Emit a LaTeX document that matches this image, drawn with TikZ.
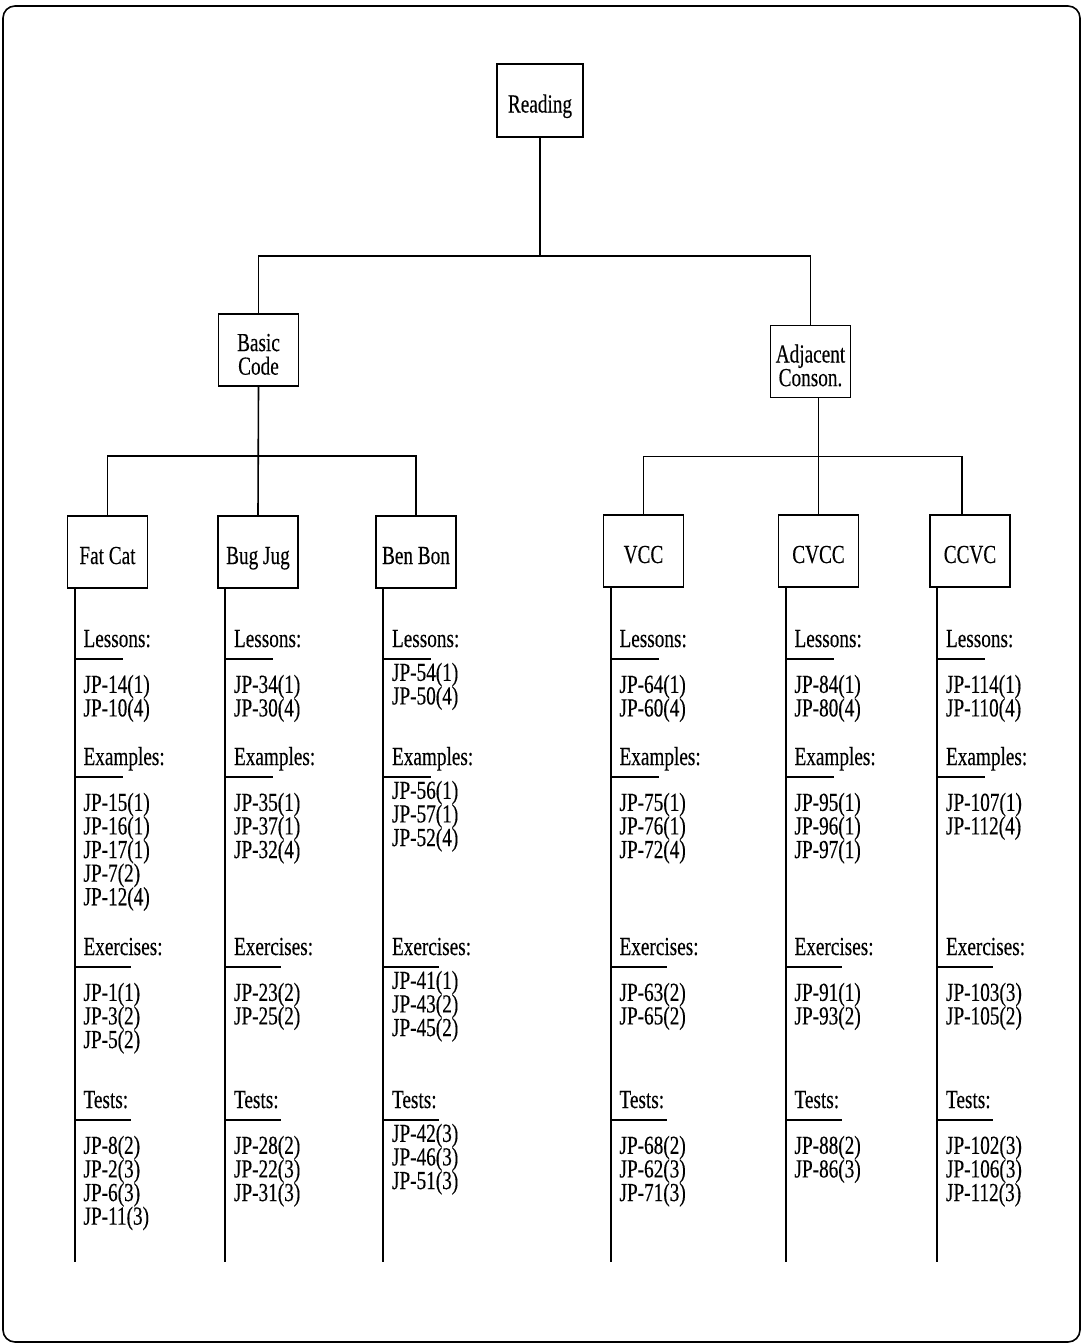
\documentclass[tikz,border=0pt]{standalone}
\usepackage{fontspec}
\setmainfont{Liberation Serif}[FakeStretch=0.74,FakeBold=0.3]
\usetikzlibrary{positioning}
\newcommand\jpfont{\fontsize{13}{11.8}\selectfont\lineskiplimit=-10pt\relax}

\begin{document}
\begin{tikzpicture}[x=0.5pt,y=-0.5pt,line width=0.8pt,
  txt/.style={font=\jpfont},
  box/.style={draw,txt,minimum width=40pt,minimum height=36pt,inner sep=1pt,text height=12pt,text depth=0pt},
  boxtwo/.style={draw,txt,align=center,minimum width=40pt,minimum height=36pt,inner sep=1pt},
  lbl/.style={txt,anchor=base west,inner sep=0pt},
  items/.style={txt,align=left,anchor=north west,inner sep=0pt,execute at begin node=\rule{0pt}{10pt}}]
\useasboundingbox (0,0) rectangle (1083,1344);
\draw[rounded corners=6pt] (3,6) rectangle (1080,1342);
% tree of boxes
\node[box,minimum width=43pt,minimum height=36.5pt] (read) at (540,100.5) {Reading};
\node[boxtwo] (bc) at (258.5,350) {\rule{0pt}{13pt}Basic\\Code};
\node[boxtwo] (adj) at (810.5,361.5) {\rule{0pt}{13pt}Adjacent\\Conson.};
\node[box] (fc) at (107.5,552) {Fat Cat};
\node[box] (bj) at (258,552) {Bug Jug};
\node[box] (bb) at (416,552) {Ben Bon};
\node[box] (vcc) at (643.5,551) {VCC};
\node[box] (cvcc) at (818.5,551) {CVCC};
\node[box] (ccvc) at (970,551) {CCVC};
\draw (read.south) -- ++(0,118) -| (bc.north);
\draw (read.south) -- ++(0,118) -| (adj.north);
\draw (bc.south) -- (bj.north);
\draw (bc.south) -- ++(0,69) -| (fc.north);
\draw (bc.south) -- ++(0,69) -| (bb.north);
\draw (cvcc.north |- adj.south) -- (cvcc.north);
\draw (cvcc.north |- adj.south) -- ++(0,58) -| (vcc.north);
\draw (cvcc.north |- adj.south) -- ++(0,58) -| ([xshift=-4pt]ccvc.north);
% stems with section labels
\foreach \c in {fc,bj,bb,vcc,cvcc,ccvc}{
  \coordinate (\c-s) at ([xshift=4pt]\c.south west);
  \draw (\c-s) -- (\c-s |- 0,1262);
  \foreach \y/\t/\w/\n in {659/Lessons:/48/les,777/Examples:/48/exa,967/Exercises:/56/exe,1120/Tests:/56/tst}{
    \node[lbl,xshift=4pt,yshift=6pt] (\c-\n) at (\c-s |- 0,\y) {\t};
    \draw (\c-s |- 0,\y) -- ++(\w,0);
  }
}
% item lists
\node[items] (fc-les-i) at ([yshift=-13.5pt]fc-les.base west) {JP-14(1)\\JP-10(4)};
\node[items] (fc-exa-i) at ([yshift=-13.5pt]fc-exa.base west) {JP-15(1)\\JP-16(1)\\JP-17(1)\\JP-7(2)\\JP-12(4)};
\node[items] (fc-exe-i) at ([yshift=-13.5pt]fc-exe.base west) {JP-1(1)\\JP-3(2)\\JP-5(2)};
\node[items] (fc-tst-i) at ([yshift=-13.5pt]fc-tst.base west) {JP-8(2)\\JP-2(3)\\JP-6(3)\\JP-11(3)};
\node[items] (bj-les-i) at ([yshift=-13.5pt]bj-les.base west) {JP-34(1)\\JP-30(4)};
\node[items] (bj-exa-i) at ([yshift=-13.5pt]bj-exa.base west) {JP-35(1)\\JP-37(1)\\JP-32(4)};
\node[items] (bj-exe-i) at ([yshift=-13.5pt]bj-exe.base west) {JP-23(2)\\JP-25(2)};
\node[items] (bj-tst-i) at ([yshift=-13.5pt]bj-tst.base west) {JP-28(2)\\JP-22(3)\\JP-31(3)};
\node[items] (bb-les-i) at ([yshift=-7.5pt]bb-les.base west) {JP-54(1)\\JP-50(4)};
\node[items] (bb-exa-i) at ([yshift=-7.5pt]bb-exa.base west) {JP-56(1)\\JP-57(1)\\JP-52(4)};
\node[items] (bb-exe-i) at ([yshift=-7.5pt]bb-exe.base west) {JP-41(1)\\JP-43(2)\\JP-45(2)};
\node[items] (bb-tst-i) at ([yshift=-7.5pt]bb-tst.base west) {JP-42(3)\\JP-46(3)\\JP-51(3)};
\node[items] (vcc-les-i) at ([yshift=-13.5pt]vcc-les.base west) {JP-64(1)\\JP-60(4)};
\node[items] (vcc-exa-i) at ([yshift=-13.5pt]vcc-exa.base west) {JP-75(1)\\JP-76(1)\\JP-72(4)};
\node[items] (vcc-exe-i) at ([yshift=-13.5pt]vcc-exe.base west) {JP-63(2)\\JP-65(2)};
\node[items] (vcc-tst-i) at ([yshift=-13.5pt]vcc-tst.base west) {JP-68(2)\\JP-62(3)\\JP-71(3)};
\node[items] (cvcc-les-i) at ([yshift=-13.5pt]cvcc-les.base west) {JP-84(1)\\JP-80(4)};
\node[items] (cvcc-exa-i) at ([yshift=-13.5pt]cvcc-exa.base west) {JP-95(1)\\JP-96(1)\\JP-97(1)};
\node[items] (cvcc-exe-i) at ([yshift=-13.5pt]cvcc-exe.base west) {JP-91(1)\\JP-93(2)};
\node[items] (cvcc-tst-i) at ([yshift=-13.5pt]cvcc-tst.base west) {JP-88(2)\\JP-86(3)};
\node[items] (ccvc-les-i) at ([yshift=-13.5pt]ccvc-les.base west) {JP-114(1)\\JP-110(4)};
\node[items] (ccvc-exa-i) at ([yshift=-13.5pt]ccvc-exa.base west) {JP-107(1)\\JP-112(4)};
\node[items] (ccvc-exe-i) at ([yshift=-13.5pt]ccvc-exe.base west) {JP-103(3)\\JP-105(2)};
\node[items] (ccvc-tst-i) at ([yshift=-13.5pt]ccvc-tst.base west) {JP-102(3)\\JP-106(3)\\JP-112(3)};
\end{tikzpicture}
\end{document}
